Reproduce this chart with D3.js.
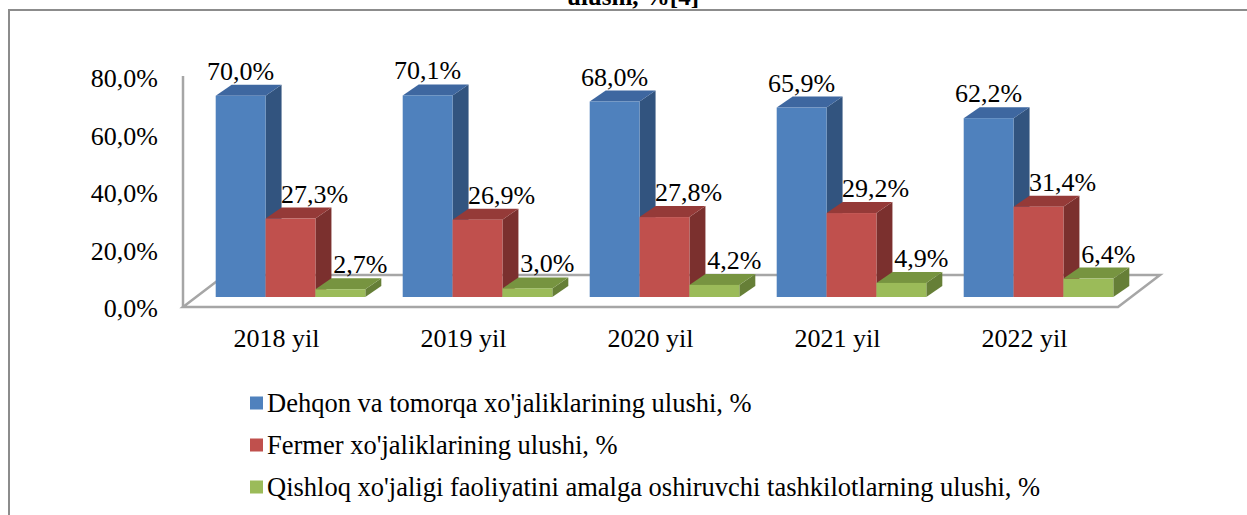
<!DOCTYPE html>
<html lang="uz">
  <head>
    <meta charset="UTF-8" />
    <title>ulushi</title>
    <script src="https://d3js.org/d3.v7.min.js"></script>
    <style>
      body { margin: 0; background: #fff; }
    </style>
  </head>
  <body>
    <svg id="chart" width="1247" height="515" font-family="'Times New Roman', 'Liberation Serif', 'DejaVu Serif', serif"></svg>
    <script>
      // data
      const years = ["2018 yil", "2019 yil", "2020 yil", "2021 yil", "2022 yil"];
      const seriesNames = [
        "Dehqon va tomorqa xo'jaliklarining ulushi, %",
        "Fermer xo'jaliklarining ulushi, %",
        "Qishloq xo'jaligi faoliyatini amalga oshiruvchi tashkilotlarning ulushi, %"
      ];
      const dehqon = [70.0, 70.1, 68.0, 65.9, 62.2];
      const fermer = [27.3, 26.9, 27.8, 29.2, 31.4];
      const tashkilot = [2.7, 3.0, 4.2, 4.9, 6.4];
      const yTicks = [0, 20, 40, 60, 80];
      const titleTail = "ulushi, %[4]";

      const values = [dehqon, fermer, tashkilot];
      const colors = [
        { front: "#4F81BD", top: "#3E67A0", side: "#32547F" },
        { front: "#C0504D", top: "#953A38", side: "#7B302E" },
        { front: "#9BBB59", top: "#779440", side: "#667F37" }
      ];
      const labelShift = [0, 24, 20];

      const svg = d3.select("#chart");
      const fmt = v => d3.format(".1f")(v).replace(".", ",") + "%";

      // outer frame (cut at top like the page)
      svg.append("path")
        .attr("d", "M9,515 V10 H1247")
        .attr("fill", "none")
        .attr("stroke", "#8c8c8c")
        .attr("stroke-width", 2);

      svg.append("text")
        .attr("x", 633).attr("y", 5)
        .attr("text-anchor", "middle")
        .style("font-size", "25px")
        .style("font-weight", "bold")
        .text(titleTail);

      // scales
      const x = d3.scaleBand().domain(years).range([183, 1118])
        .paddingInner(0.2).paddingOuter(0.1);
      const xs = d3.scaleBand().domain(d3.range(3)).range([0, x.bandwidth()]);
      const y = d3.scaleLinear().domain([0, 80]).range([307, 77]);

      const floorD = [42, -32];       // full depth of floor
      const barPos = [14, -10];       // bar plane offset
      const barD = [16, -11];         // bar depth

      // floor
      const f0 = x.range()[0], f1 = x.range()[1], fy = y(0);
      svg.append("path")
        .attr("d", `M${f0},${fy} L${f1},${fy} L${f1 + floorD[0]},${fy + floorD[1]} L${f0 + floorD[0]},${fy + floorD[1]} Z`)
        .attr("fill", "#fff")
        .attr("stroke", "#a6a6a6")
        .attr("stroke-width", 2.5);
      svg.append("line")
        .attr("x1", f0).attr("x2", f0)
        .attr("y1", y(80) - 1).attr("y2", fy)
        .attr("stroke", "#a6a6a6")
        .attr("stroke-width", 2.5);

      // y axis labels
      svg.selectAll(".ytick").data(yTicks).enter().append("text")
        .attr("class", "ytick")
        .attr("x", 158)
        .attr("y", d => y(d) + 1)
        .attr("dy", "0.35em")
        .attr("text-anchor", "end")
        .style("font-size", "26px")
        .text(d => fmt(d));

      // bars
      years.forEach((yr, i) => {
        values.forEach((arr, s) => {
          const v = arr[i];
          const x0 = x(yr) + xs(s) + barPos[0];
          const x1 = x0 + xs.bandwidth();
          const yb = y(0) + barPos[1];
          const yt = y(v) + barPos[1];
          const g = svg.append("g");
          g.append("path")
            .attr("d", `M${x1},${yt} L${x1 + barD[0]},${yt + barD[1]} L${x1 + barD[0]},${yb + barD[1]} L${x1},${yb} Z`)
            .attr("fill", colors[s].side);
          g.append("path")
            .attr("d", `M${x0},${yt} L${x1},${yt} L${x1 + barD[0]},${yt + barD[1]} L${x0 + barD[0]},${yt + barD[1]} Z`)
            .attr("fill", colors[s].top);
          g.append("rect")
            .attr("x", x0).attr("y", yt)
            .attr("width", x1 - x0).attr("height", yb - yt)
            .attr("fill", colors[s].front);
        });
      });

      // data labels
      years.forEach((yr, i) => {
        values.forEach((arr, s) => {
          const v = arr[i];
          const cx = x(yr) + xs(s) + barPos[0] + xs.bandwidth() / 2 + labelShift[s];
          svg.append("text")
            .attr("x", cx)
            .attr("y", y(v) + barPos[1] + barD[1] - 5)
            .attr("text-anchor", "middle")
            .style("font-size", "26px")
            .text(fmt(v));
        });
      });

      // category labels
      svg.selectAll(".xtick").data(years).enter().append("text")
        .attr("class", "xtick")
        .attr("x", d => x(d) + x.bandwidth() / 2)
        .attr("y", 347)
        .attr("text-anchor", "middle")
        .style("font-size", "26px")
        .text(d => d);

      // legend
      const legend = svg.selectAll(".leg").data(seriesNames).enter().append("g")
        .attr("class", "leg")
        .attr("transform", (d, i) => `translate(250, ${[403, 445, 487][i]})`);
      legend.append("rect")
        .attr("x", 0).attr("y", -6.5)
        .attr("width", 13).attr("height", 13)
        .attr("fill", (d, i) => colors[i].front);
      legend.append("text")
        .attr("x", 17).attr("y", 9)
        .style("font-size", "26.5px")
        .text(d => d);
    </script>
  </body>
</html>
